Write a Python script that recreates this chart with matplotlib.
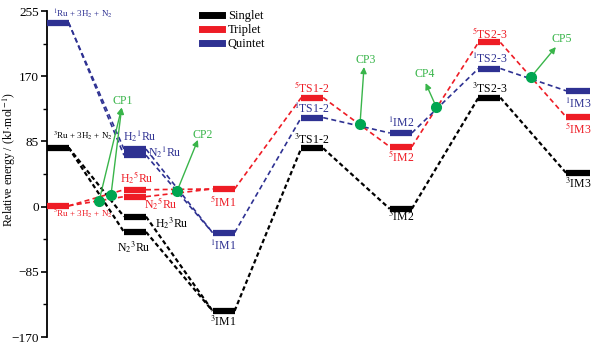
import numpy as np
import matplotlib.pyplot as plt
from matplotlib.lines import Line2D

plt.rcParams['font.family'] = ['Liberation Serif', 'DejaVu Serif']
plt.rcParams['mathtext.fontset'] = 'stix'

# energies (kJ/mol): Ru, H2Ru, N2Ru, IM1, TS1-2, IM2, TS2-3, IM3
singlet = [77, -13, -33, -136, 76, -3, 142, 44]
triplet = [1, 22, 13, 23, 142, 78, 214, 117]
quintet = [240, 75, 67, -34, 116, 96, 180, 151]

# crossing points
cp_x = [0.594, 0.729, 1.474, 3.54, 4.40, 5.47]
cp_e = [7, 15, 20, 108, 130, 169]
cp_tip_x = [0.85, 0.85, 1.71, 3.585, 4.28, 5.75]
cp_tip_e = [129, 129, 87, 182, 161, 208]
cp_labels = ['CP1', 'CP2', 'CP3', 'CP4', 'CP5']
cp_lab_x = [0.86, 1.76, 3.6, 4.27, 5.82]
cp_lab_e = [138, 93, 191, 173, 218]

xs = [0.13, 1, 1, 2, 3, 4, 5, 6]
hw = [0.12, 0.124, 0.124, 0.124, 0.124, 0.124, 0.124, 0.135]
paths = [[0, 1, 3, 4, 5, 6, 7], [0, 2, 3]]

black = '#000000'
red = '#ee1c25'
blue = '#2e3192'
green = '#00a651'

fig = plt.figure(figsize=(5.92, 3.47), dpi=100)
ax = fig.add_axes([47/592, 10/347, 545/592, 326/347])
ax.set_xlim(0.007, 6.158)
ax.set_ylim(-170, 255)

styles = [(singlet, black, 1.6, (2, 1.3)),
          (triplet, red, 1.2, (3, 2)),
          (quintet, blue, 1.2, (3, 2))]
for e, c, lw, dash in styles:
    for p in paths:
        for i, j in zip(p[:-1], p[1:]):
            ax.plot([xs[i] + hw[i], xs[j] - hw[j]], [e[i], e[j]], color=c,
                    lw=lw, dashes=dash, zorder=2)
    for k in range(len(e)):
        ax.plot([xs[k] - hw[k], xs[k] + hw[k]], [e[k], e[k]], color=c,
                lw=4.5, solid_capstyle='butt', zorder=3)

# crossing points with arrows
for k in range(len(cp_x)):
    ax.annotate('', xy=(cp_tip_x[k], cp_tip_e[k]), xytext=(cp_x[k], cp_e[k]),
                arrowprops=dict(arrowstyle='-|>', color='#39b54a', lw=1.0,
                                mutation_scale=9, shrinkA=0, shrinkB=0), zorder=4)
ax.plot(cp_x, cp_e, 'o', color=green, ms=7, zorder=5)
for t, x, y in zip(cp_labels, cp_lab_x, cp_lab_e):
    ax.text(x, y, t, color='#39b54a', fontsize=8.5, ha='center', va='center')

# level labels: (text, index, series, colour, dx px, dy px, ha, size)
fs = 8.5
labels = [
    (r'$^{1}$Ru + 3H$_2$ + N$_2$', 0, quintet, blue, 6, 8, 'left', 6.5),
    (r'$^{3}$Ru + 3H$_2$ + N$_2$', 0, singlet, black, 6, 12, 'left', 6.5),
    (r'$^{5}$Ru + 3H$_2$ + N$_2$', 0, triplet, red, 6, -8, 'left', 6.5),
    (r'H$_2$$^{1}$Ru', 1, quintet, blue, -1, 13, 'left', fs),
    (r'N$_2$$^{1}$Ru', 2, quintet, blue, 24, 3, 'left', fs),
    (r'H$_2$$^{5}$Ru', 1, triplet, red, -4, 12, 'left', fs),
    (r'N$_2$$^{5}$Ru', 2, triplet, red, 20, -7, 'left', fs),
    (r'H$_2$$^{3}$Ru', 1, singlet, black, 31, -7, 'left', fs),
    (r'N$_2$$^{3}$Ru', 2, singlet, black, -7, -15, 'left', fs),
    (r'$^{5}$IM1', 3, triplet, red, 0, -13, 'center', fs),
    (r'$^{1}$IM1', 3, quintet, blue, 0, -13, 'center', fs),
    (r'$^{3}$IM1', 3, singlet, black, 0, -11, 'center', fs),
    (r'$^{5}$TS1-2', 4, triplet, red, 0, 10, 'center', fs),
    (r'$^{1}$TS1-2', 4, quintet, blue, 0, 9, 'center', fs),
    (r'$^{3}$TS1-2', 4, singlet, black, 0, 8, 'center', fs),
    (r'$^{1}$IM2', 5, quintet, blue, 0, 10, 'center', fs),
    (r'$^{5}$IM2', 5, triplet, red, 0, -10, 'center', fs),
    (r'$^{3}$IM2', 5, singlet, black, 0, -8, 'center', fs),
    (r'$^{5}$TS2-3', 6, triplet, red, 0, 9, 'center', fs),
    (r'$^{1}$TS2-3', 6, quintet, blue, 0, 10, 'center', fs),
    (r'$^{3}$TS2-3', 6, singlet, black, 0, 9, 'center', fs),
    (r'$^{1}$IM3', 7, quintet, blue, 0, -13, 'center', fs),
    (r'$^{5}$IM3', 7, triplet, red, 0, -12, 'center', fs),
    (r'$^{3}$IM3', 7, singlet, black, 0, -11, 'center', fs),
]
for t, k, e, c, dx, dy, ha, size in labels:
    x0 = xs[k] - hw[k] if ha == 'left' else xs[k]
    ax.annotate(t, xy=(x0, e[k]), xytext=(dx, dy), textcoords='offset pixels',
                ha=ha, va='center', color=c, fontsize=size)

# legend
handles = [Line2D([], [], color=c, lw=5) for c in (black, red, blue)]
fig.legend(handles, ['Singlet', 'Triplet', 'Quintet'], loc='upper left',
           bbox_to_anchor=(196/592, 1 - 4/347), frameon=False, fontsize=9,
           handlelength=1.6, handletextpad=0.45, labelspacing=0.15, borderpad=0)

ax.set_yticks([-170, -85, 0, 85, 170, 255])
ax.set_yticks(np.arange(-170, 256, 42.5), minor=True)
ax.tick_params(axis='y', direction='out', labelsize=9.5, width=1.2, length=4.3, pad=1.5)
ax.tick_params(axis='y', which='minor', direction='out', width=1.0, length=3)
ax.set_xticks([])
for s in ('top', 'right', 'bottom'):
    ax.spines[s].set_visible(False)
ax.spines['left'].set_linewidth(1.3)
ax.set_ylabel(r'Relative energy / (kJ$\cdot$mol$^{-1}$)', fontsize=8.5)
ax.yaxis.set_label_coords(-29/545, 0.543)

fig.savefig('out.png', dpi=100)
